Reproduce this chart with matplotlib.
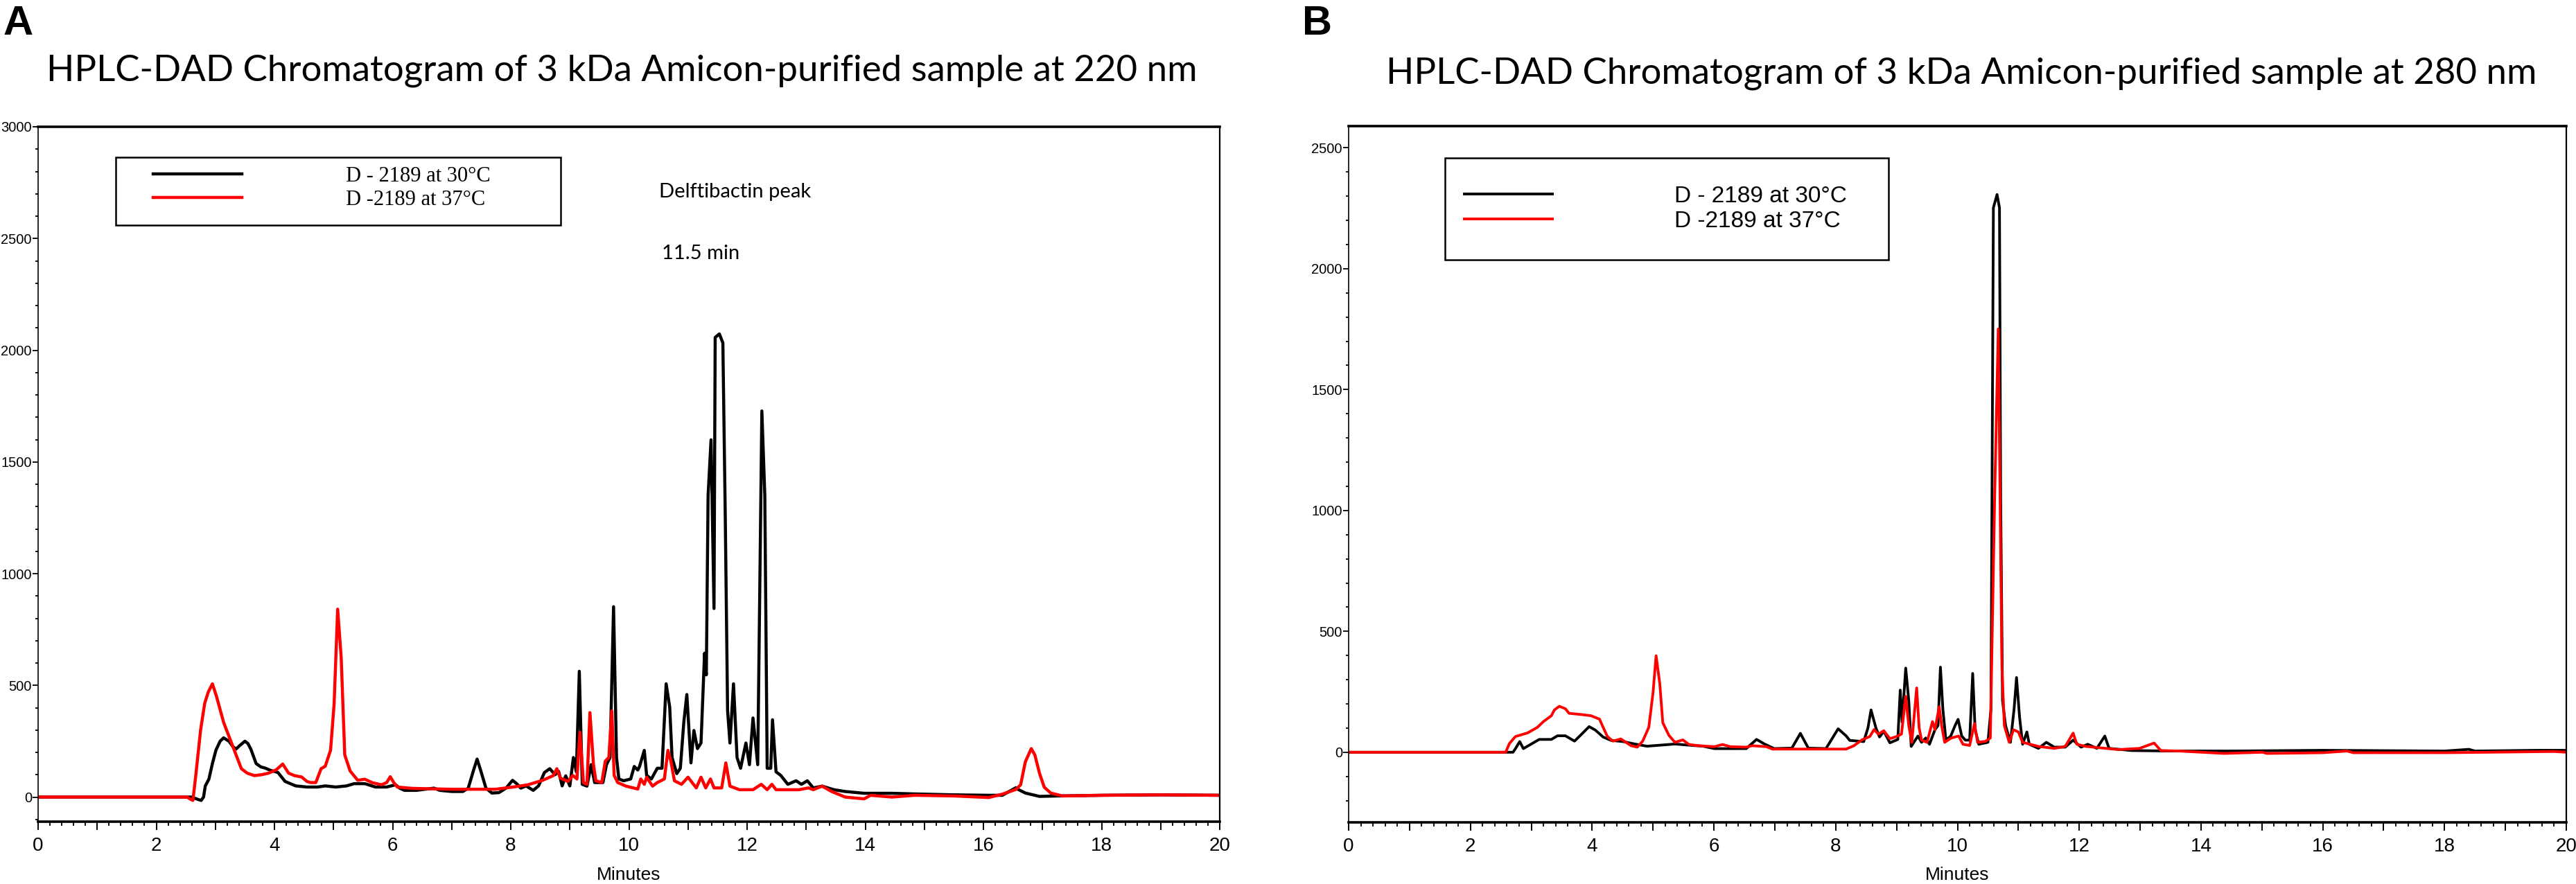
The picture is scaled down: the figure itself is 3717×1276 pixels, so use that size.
import matplotlib
matplotlib.use("Agg")
import matplotlib.pyplot as plt
from matplotlib import font_manager
from matplotlib.patches import Rectangle
from matplotlib.ticker import MultipleLocator, FuncFormatter

# panel A: 220 nm
a_black_t = [0.0, 2.60, 2.70, 2.76, 2.80, 2.83, 2.89, 2.95, 3.01, 3.08, 3.14, 3.23, 3.30, 3.35, 3.41, 3.50,
             3.55, 3.60, 3.69, 3.77, 3.84, 3.93, 4.06, 4.12, 4.18, 4.27, 4.36, 4.55, 4.73, 4.86, 5.04, 5.22,
             5.35, 5.53, 5.71, 5.90, 6.05, 6.12, 6.20, 6.40, 6.70, 6.80, 7.00, 7.19, 7.28, 7.37, 7.43, 7.49,
             7.58, 7.68, 7.80, 7.92, 8.03, 8.10, 8.17, 8.26, 8.38, 8.47, 8.57, 8.66, 8.75, 8.81, 8.87, 8.93,
             9.00, 9.06, 9.11, 9.16, 9.21, 9.29, 9.36, 9.42, 9.56, 9.62, 9.68, 9.74, 9.79, 9.83, 9.91, 10.03,
             10.09, 10.15, 10.18, 10.26, 10.30, 10.38, 10.48, 10.56, 10.63, 10.69, 10.73, 10.81, 10.87, 10.93,
             10.98, 11.05, 11.10, 11.16, 11.22, 11.28, 11.31, 11.34, 11.39, 11.44, 11.46, 11.53, 11.59, 11.63,
             11.67, 11.71, 11.77, 11.83, 11.89, 11.98, 12.04, 12.10, 12.18, 12.25, 12.30, 12.34, 12.40, 12.43,
             12.49, 12.57, 12.69, 12.83, 12.92, 13.02, 13.12, 13.27, 13.47, 13.66, 13.98, 14.45, 14.84, 15.5,
             16.09, 16.32, 16.55, 16.59, 16.71, 16.95, 17.26, 18.0, 19.0, 20.0]
a_black_v = [0, 0, -10, -15, 0, 50, 80, 150, 210, 250, 265, 250, 225, 215, 230, 250,
             240, 215, 150, 135, 130, 120, 110, 90, 70, 60, 50, 45, 45, 50, 45, 50,
             60, 60, 45, 45, 55, 40, 30, 30, 40, 30, 25, 25, 40, 120, 170, 120,
             40, 18, 20, 40, 75, 60, 40, 50, 30, 50, 110, 127, 100, 115, 50, 95,
             50, 177, 113, 563, 57, 49, 145, 65, 65, 145, 177, 852, 177, 81, 73, 81,
             137, 121, 137, 209, 97, 81, 129, 129, 507, 403, 177, 105, 129, 338,
             459, 153, 298, 217, 242, 644, 547, 1350, 1599, 844, 2057, 2073, 2033, 1270,
             387, 242, 507, 177, 129, 242, 145, 354, 145, 1728, 1350, 129, 129, 346,
             113, 97, 57, 73, 57, 73, 41, 49, 33, 25, 17, 17, 14, 10,
             8, 8, 42, 34, 18, 3, 5, 8, 10, 8]

a_red_t = [0.0, 2.52, 2.58, 2.62, 2.67, 2.75, 2.82, 2.88, 2.95, 3.02, 3.14, 3.32, 3.44, 3.54, 3.66, 3.78,
           3.90, 4.03, 4.14, 4.24, 4.34, 4.46, 4.55, 4.61, 4.70, 4.79, 4.86, 4.95, 5.01, 5.07, 5.13, 5.19,
           5.28, 5.41, 5.53, 5.65, 5.81, 5.90, 5.96, 6.02, 6.08, 6.33, 7.00, 7.74, 8.04, 8.29, 8.54, 8.72,
           8.78, 8.84, 8.97, 9.05, 9.12, 9.17, 9.23, 9.29, 9.34, 9.40, 9.44, 9.54, 9.60, 9.66, 9.71, 9.75,
           9.81, 9.95, 10.15, 10.20, 10.26, 10.30, 10.40, 10.48, 10.60, 10.66, 10.71, 10.77, 10.89, 11.00,
           11.14, 11.22, 11.30, 11.38, 11.44, 11.57, 11.64, 11.71, 11.87, 12.10, 12.24, 12.34, 12.42, 12.49,
           12.88, 13.04, 13.12, 13.27, 13.43, 13.66, 13.98, 14.09, 14.45, 14.84, 15.5, 16.09, 16.32, 16.55,
           16.63, 16.71, 16.81, 16.87, 16.95, 17.03, 17.14, 17.34, 18.0, 19.0, 20.0]
a_red_v = [0, 0, -10, -15, 100, 300, 420, 470, 507, 450, 334, 210, 127, 107, 96, 100,
           107, 122, 148, 107, 96, 90, 70, 65, 65, 127, 138, 210, 417, 841, 624, 189,
           117, 75, 80, 65, 55, 65, 91, 65, 45, 39, 35, 35, 45, 55, 75, 96,
           127, 85, 70, 97, 81, 290, 65, 57, 378, 145, 73, 65, 161, 177, 386, 97,
           65, 49, 36, 81, 57, 89, 49, 65, 81, 209, 161, 73, 57, 89,
           41, 89, 41, 81, 41, 41, 153, 49, 33, 33, 57, 33, 57, 33,
           33, 41, 33, 49, 25, 0, -8, 8, 0, 8, 5, -2, 13, 34,
           55, 158, 217, 189, 106, 44, 18, 5, 8, 10, 8]

# panel B: 280 nm
b_black_t = [0.0, 2.70, 2.74, 2.81, 2.87, 3.00, 3.13, 3.33, 3.43, 3.56, 3.71, 3.82, 3.95, 4.05, 4.18, 4.31,
             4.51, 4.70, 4.90, 5.16, 5.36, 5.55, 5.82, 6.01, 6.53, 6.70, 6.83, 6.99, 7.28, 7.42, 7.55, 7.84,
             8.04, 8.17, 8.23, 8.46, 8.53, 8.58, 8.66, 8.72, 8.79, 8.89, 9.02, 9.06, 9.09, 9.15, 9.20, 9.24,
             9.35, 9.41, 9.48, 9.54, 9.63, 9.68, 9.72, 9.76, 9.81, 9.89, 9.96, 10.01, 10.07, 10.13, 10.20,
             10.25, 10.29, 10.35, 10.50, 10.55, 10.59, 10.65, 10.69, 10.71, 10.74, 10.79, 10.87, 10.93, 10.97,
             11.02, 11.07, 11.14, 11.18, 11.33, 11.46, 11.59, 11.77, 11.90, 12.03, 12.14, 12.29, 12.42, 12.49,
             12.86, 13.5, 14.5, 16.0, 18.0, 18.4, 18.5, 19.5, 20.0]
b_black_v = [0, 0, 15, 44, 15, 34, 53, 53, 68, 68, 46, 73, 106, 92, 63, 49,
             44, 34, 25, 30, 34, 30, 25, 15, 15, 53, 34, 15, 17, 78, 17, 15,
             97, 68, 49, 44, 101, 175, 101, 63, 87, 39, 53, 257, 125, 348, 214, 24,
             67, 41, 59, 33, 93, 110, 352, 179, 50, 67, 110, 136, 67, 50, 50,
             326, 93, 33, 41, 179, 2252, 2307, 2252, 1043, 214, 110, 41, 179, 309,
             145, 33, 84, 33, 16, 41, 21, 21, 50, 21, 33, 16, 67, 16,
             7, 5, 5, 8, 5, 12, 5, 8, 8]

b_red_t = [0.0, 2.58, 2.64, 2.74, 2.94, 3.10, 3.20, 3.33, 3.38, 3.46, 3.56, 3.62, 3.82, 3.98, 4.12, 4.18,
           4.25, 4.34, 4.47, 4.64, 4.74, 4.83, 4.93, 5.00, 5.05, 5.11, 5.16, 5.26, 5.36, 5.49, 5.59, 5.75,
           6.01, 6.14, 6.27, 6.53, 6.63, 6.86, 6.96, 8.17, 8.30, 8.43, 8.56, 8.63, 8.70, 8.79, 8.89, 9.00,
           9.08, 9.15, 9.20, 9.25, 9.33, 9.37, 9.41, 9.50, 9.59, 9.63, 9.70, 9.74, 9.79, 9.90, 10.02, 10.09,
           10.20, 10.28, 10.33, 10.46, 10.54, 10.61, 10.67, 10.70, 10.73, 10.77, 10.85, 10.92, 11.00, 11.07,
           11.33, 11.59, 11.77, 11.90, 11.96, 12.11, 12.64, 12.99, 13.23, 13.34, 13.64, 14.38, 15.01, 15.08,
           16.0, 16.4, 16.5, 18.0, 19.8, 20.0]
b_red_v = [0, 0, 36, 65, 80, 103, 127, 151, 175, 190, 180, 161, 156, 151, 137, 103,
           65, 46, 55, 27, 21, 46, 103, 247, 399, 285, 122, 70, 41, 51, 32, 27,
           23, 32, 23, 21, 27, 23, 13, 13, 27, 51, 65, 94, 75, 89, 56, 65,
           75, 231, 110, 41, 266, 101, 50, 41, 127, 93, 188, 110, 41, 59, 67, 33,
           28, 119, 41, 45, 59, 1043, 1751, 1043, 352, 110, 41, 93, 84, 41,
           24, 16, 24, 79, 33, 24, 11, 16, 38, 7, 5, -5, 0, -5,
           -2, 5, -2, -2, 3, 0]

labels_a = ["D - 2189 at 30°C", "D -2189 at 37°C"]
titles = ["HPLC-DAD Chromatogram of 3 kDa Amicon-purified sample at 220 nm",
          "HPLC-DAD Chromatogram of 3 kDa Amicon-purified sample at 280 nm"]

W, H = 3717, 1276
installed = {f.name for f in font_manager.fontManager.ttflist}
narrow = "Liberation Sans Narrow" if "Liberation Sans Narrow" in installed else "Liberation Sans"
calib = "Lato" if "Lato" in installed else "DejaVu Sans"

fig = plt.figure(figsize=(W / 100, H / 100), dpi=100)
fig.patch.set_facecolor("white")


def fx(px):
    return px / W


def fy(py):
    return 1 - py / H


def style_axes(ax, ylim):
    ax.set_xlim(0, 20)
    ax.set_ylim(*ylim)
    ax.xaxis.set_major_locator(MultipleLocator(1))
    ax.xaxis.set_minor_locator(MultipleLocator(0.2))
    ax.xaxis.set_major_formatter(FuncFormatter(lambda v, p: "%d" % v if int(round(v)) % 2 == 0 else ""))
    ax.yaxis.set_major_locator(MultipleLocator(500))
    ax.yaxis.set_minor_locator(MultipleLocator(100))
    ax.tick_params(axis="x", which="major", length=8.5, width=1.4, pad=7, direction="out")
    ax.tick_params(axis="x", which="minor", length=4.3, width=1.3, direction="out")
    ax.tick_params(axis="y", which="major", length=5.5, width=1.3, pad=1, direction="out")
    ax.tick_params(axis="y", which="minor", length=2.8, width=1.3, direction="out")
    for lab in ax.get_xticklabels():
        lab.set_fontfamily(narrow)
        lab.set_fontsize(20)
    for lab in ax.get_yticklabels():
        lab.set_fontfamily("Liberation Sans")
        lab.set_fontsize(14.5)
    ax.spines["top"].set_linewidth(2.6)
    ax.spines["bottom"].set_linewidth(2.6)
    ax.spines["left"].set_linewidth(1.2)
    ax.spines["right"].set_linewidth(1.6)
    ax.set_xlabel("Minutes", fontfamily=narrow, fontsize=19, va="center")


# panel A
ax1 = fig.add_axes([fx(55), fy(1186), fx(1705), 1003 / H])
l1, = ax1.plot(a_black_t, a_black_v, color="black", lw=3.2, solid_joinstyle="round")
l2, = ax1.plot(a_red_t, a_red_v, color="#ff0000", lw=3.2, solid_joinstyle="round")
style_axes(ax1, (-110, 3000))
ax1.xaxis.set_label_coords(0.5, -(1263 - 1186) / 1003)

fig.add_artist(Rectangle((fx(167), fy(325)), fx(642), 98 / H, transform=fig.transFigure,
                         fill=False, edgecolor="black", lw=1.8))
ax1.legend([l1, l2], labels_a, loc="upper left", bbox_to_anchor=(fx(221), fy(240)),
           bbox_transform=fig.transFigure, frameon=False, borderpad=0, borderaxespad=0,
           handlelength=4.2, handletextpad=4.9, labelspacing=0.15,
           prop={"family": "Liberation Serif", "size": 22})
fig.text(fx(951), fy(285), "Delftibactin peak", fontfamily=calib, fontsize=21, va="baseline")
fig.text(fx(955), fy(374), "11.5 min", fontfamily=calib, fontsize=21, va="baseline")

# panel B
ax2 = fig.add_axes([fx(1946), fy(1187), fx(1757), 1005 / H])
l3, = ax2.plot(b_black_t, b_black_v, color="black", lw=2.8, solid_joinstyle="round")
l4, = ax2.plot(b_red_t, b_red_v, color="#ff0000", lw=2.8, solid_joinstyle="round")
style_axes(ax2, (-290, 2590))
ax2.xaxis.set_label_coords(0.5, -(1263 - 1187) / 1005)

fig.add_artist(Rectangle((fx(2085), fy(375)), fx(640), 147 / H, transform=fig.transFigure,
                         fill=False, edgecolor="black", lw=1.8))
ax2.legend([l3, l4], labels_a, loc="upper left", bbox_to_anchor=(fx(2113), fy(268)),
           bbox_transform=fig.transFigure, frameon=False, borderpad=0, borderaxespad=0,
           handlelength=3.8, handletextpad=5.3, labelspacing=0.15,
           prop={"family": "Liberation Sans", "size": 24})

# titles and panel letters
fig.text(fx(897), fy(117), titles[0], fontfamily=calib, fontsize=38, ha="center", va="baseline")
fig.text(fx(2830), fy(120), titles[1], fontfamily=calib, fontsize=38, ha="center", va="baseline")
fig.text(fx(5), fy(50), "A", fontfamily="Liberation Sans", fontweight="bold", fontsize=43, va="baseline")
fig.text(fx(1879), fy(50), "B", fontfamily="Liberation Sans", fontweight="bold", fontsize=43, va="baseline")

fig.savefig("out.png", dpi=100, facecolor="white")
